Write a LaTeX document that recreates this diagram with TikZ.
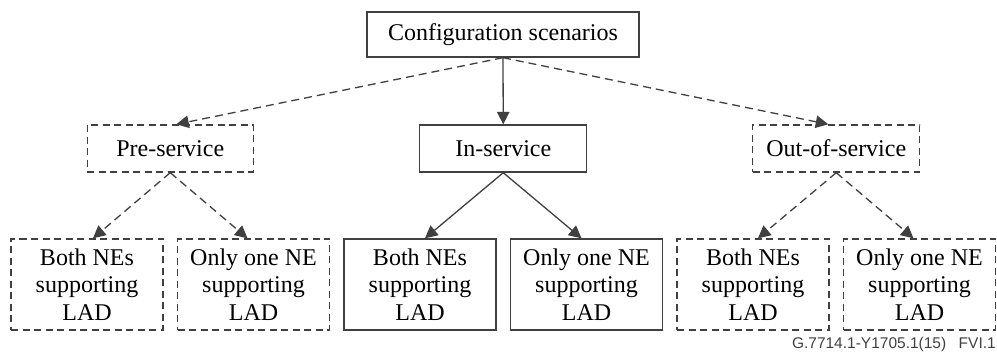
\documentclass[tikz,border=0pt]{standalone}
\usepackage{fontspec}
\setmainfont{Liberation Serif}
\newfontfamily\tagfont{Liberation Sans}
\usetikzlibrary{arrows.meta}
\definecolor{cline}{rgb}{0.25, 0.25, 0.25}

\tikzset{
    box/.style={draw=cline, line width=1.4pt, inner sep=0pt, align=center,
        font=\fontsize{24}{27.5}\selectfont},
    dashbox/.style={box, dash pattern=on 7pt off 4.5pt},
    solidbox/.style={box},
    link/.style={draw=cline, line width=1.3pt, -{Triangle[length=12.5pt, width=12.5pt]}},
    dashlink/.style={link, dash pattern=on 8pt off 5pt}
}

\begin{document}
\begin{tikzpicture}[x=1pt, y=1pt]

\useasboundingbox (0, 0) rectangle (997, -352);

% root
\node [solidbox, minimum width=272pt, minimum height=45pt] (config) at (503, -34.5) {Configuration scenarios};

% service states
\node [dashbox, minimum width=166pt, minimum height=47pt] (pre) at (170.25, -148.5) {Pre-service};
\node [solidbox, minimum width=167pt, minimum height=47pt] (insvc) at (503.25, -148.5) {In-service};
\node [dashbox, minimum width=167pt, minimum height=47pt] (out) at (836.25, -148.5) {Out-of-service};

% support cases
\foreach \x/\id/\first/\kind in {87/preboth/Both NEs/dashbox, 253.5/preone/Only one NE/dashbox,
    420/inboth/Both NEs/solidbox, 586.5/inone/Only one NE/solidbox,
    753/outboth/Both NEs/dashbox, 919.5/outone/Only one NE/dashbox} {
    \node [\kind, minimum width=152pt, minimum height=91pt] (\id) at (\x, -284.5) {\first\\supporting\\LAD};
}

% root links
\draw [dashlink] (config.south) -- ([xshift=6pt]pre.north);
\draw [link] (config.south) -- (insvc.north);
\draw [dashlink] (config.south) -- ([xshift=-8pt]out.north);

% state links
\draw [dashlink] (pre.south) -- ([xshift=6pt]preboth.north);
\draw [dashlink] (pre.south) -- ([xshift=-6pt]preone.north);
\draw [link] (insvc.south) -- ([xshift=5pt]inboth.north);
\draw [link] (insvc.south) -- ([xshift=-5pt]inone.north);
\draw [dashlink] (out.south) -- ([xshift=5pt]outboth.north);
\draw [dashlink] (out.south) -- ([xshift=-6pt]outone.north);

% figure tag
\node [anchor=base east, inner sep=0pt, text=cline, font=\tagfont\fontsize{15.5}{18}\selectfont] (tag) at (996, -349) {G.7714.1-Y1705.1(15)\hspace{12.5pt}FVI.1};

\end{tikzpicture}
\end{document}
